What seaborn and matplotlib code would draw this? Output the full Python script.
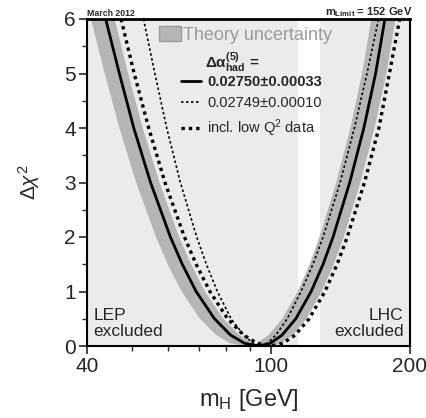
import matplotlib
matplotlib.use("Agg")
import matplotlib.pyplot as plt
import matplotlib.ticker as mticker
from matplotlib.patches import Patch
from matplotlib.lines import Line2D
import seaborn as sns

chi_levels = [6, 5, 4, 3, 2, 1.5, 1, 0.5, 0.2, 0.05, 0, 0.05, 0.2, 0.5, 1, 1.5, 2, 3, 4, 5, 6]

# m_H [GeV] of each curve at those levels
m_central = [43.9, 47.0, 50.5, 54.9, 60.6, 64.3, 68.9, 75.5, 81.8, 87.7, 94.0,
             99.7, 105.7, 113.2, 122.2, 129.7, 136.3, 148.1, 158.9, 168.5, 176.5]
m_fine = [53.0, 56.1, 59.5, 63.7, 69.1, 72.5, 76.6, 82.0, 87.3, 91.6, 95.0,
          98.3, 102.5, 108.5, 116.2, 123.3, 129.7, 141.2, 151.6, 161.4, 171.0]
m_lowq = [47.4, 50.6, 54.4, 59.0, 65.0, 68.9, 73.8, 80.6, 87.3, 93.4, 100.0,
          106.2, 112.8, 121.0, 130.9, 139.1, 146.3, 159.4, 171.3, 180.5, 190.0]

# theory band: outer edge (left branch down, right branch up) and inner edge
m_band_outer = [40.8, 43.7, 47.0, 51.1, 56.4, 59.8, 64.1, 70.2, 76.1, 81.6, 87.4,
                99.2, 105.2, 111.5, 119.4, 128.9, 136.8, 143.8, 156.2, 167.6, 177.8, 186.2]
chi_band_outer = [6, 5, 4, 3, 2, 1.5, 1, 0.5, 0.2, 0.05, 0,
                  0, 0.05, 0.2, 0.5, 1, 1.5, 2, 3, 4, 5, 6]
m_band_inner = [165.0, 157.5, 148.6, 138.5, 127.4, 121.3, 114.3, 105.8, 98.8, 93.2, 92.5,
                91.6, 85.5, 78.9, 72.0, 67.2, 63.3, 57.4, 52.8, 49.1, 45.9]
chi_band_inner = [6, 5, 4, 3, 2, 1.5, 1, 0.5, 0.2, 0.05, 0.04,
                  0.05, 0.2, 0.5, 1, 1.5, 2, 3, 4, 5, 6]

lep_limit = 114.4
lhc_low = 127.5
x_min, x_max = 40, 200

sns.set_style("ticks")
plt.rcParams['font.family'] = ['Liberation Sans', 'DejaVu Sans']
plt.rcParams['mathtext.fontset'] = 'custom'
plt.rcParams['mathtext.rm'] = 'Liberation Sans'
plt.rcParams['mathtext.it'] = 'Liberation Sans:italic'
plt.rcParams['mathtext.bf'] = 'Liberation Sans:bold'

fig = plt.figure(figsize=(4.26, 4.18), dpi=100)
ax = fig.add_axes([87/426, 1-346/418, 323/426, 327/418])

# excluded regions (stippled grey in the print)
ax.axvspan(x_min, lep_limit, color='#ebebeb', lw=0, zorder=0)
ax.axvspan(lhc_low, x_max, color='#ebebeb', lw=0, zorder=0)

# theory uncertainty band
ax.fill(m_band_outer + m_band_inner, chi_band_outer + chi_band_inner,
        color='#b5b5b5', lw=0, zorder=1)

sns.lineplot(x=m_central, y=chi_levels, sort=False, estimator=None, ax=ax,
             color='black', lw=2.0, zorder=3)
sns.lineplot(x=m_fine, y=chi_levels, sort=False, estimator=None, ax=ax,
             color='black', lw=1.2, linestyle=(0, (1.5, 1.5)), zorder=3)
sns.lineplot(x=m_lowq, y=chi_levels, sort=False, estimator=None, ax=ax,
             color='black', lw=2.4, linestyle=(0, (1, 1.2)), zorder=3)

ax.set_xscale('log')
ax.set_xlim(x_min, x_max)
ax.set_ylim(0, 6)
ax.xaxis.set_major_locator(mticker.FixedLocator([40, 100, 200]))
ax.xaxis.set_major_formatter(mticker.FixedFormatter(['40', '100', '200']))
ax.xaxis.set_minor_locator(mticker.FixedLocator([50, 60, 70, 80, 90]))
ax.xaxis.set_minor_formatter(mticker.NullFormatter())
ax.yaxis.set_major_locator(mticker.MultipleLocator(1))
ax.yaxis.set_minor_locator(mticker.MultipleLocator(0.5))
ax.tick_params(which='major', direction='out', length=6, width=1.2, labelsize=15, pad=2)
ax.tick_params(which='minor', direction='out', length=3.5, width=1.0)
for s in ax.spines.values():
    s.set_linewidth(1.5)
    s.set_color('black')
ax.spines['top'].set_linewidth(2.0)

ax.set_xlabel(r"m$_{\mathrm{H}}$ [GeV]", fontsize=17, labelpad=8)
ax.set_ylabel(r"$\Delta\chi^{2}$", fontsize=15, labelpad=16)

ax.text(0.02, 0.068, "LEP\nexcluded", transform=ax.transAxes, fontsize=12.5,
        ha='left', va='center', linespacing=1.05, zorder=5)
ax.text(0.98, 0.068, "LHC\nexcluded", transform=ax.transAxes, fontsize=12.5,
        ha='right', va='center', linespacing=1.05, multialignment='right', zorder=5)

fig.text(87/426, 1-13/418, "March 2012", fontsize=6.3, fontweight='bold', va='center')
fig.text(412/426, 1-12/418, r"m$_{\mathbf{Limit}}$ = 152 GeV", fontsize=8,
         fontweight='bold', ha='right', va='center')

theory = ax.legend(handles=[Patch(facecolor='#b5b5b5', edgecolor='#999999')],
                   labels=["Theory uncertainty"], loc='upper left',
                   bbox_to_anchor=(159/426, 1-26/418), bbox_transform=fig.transFigure,
                   frameon=False, fontsize=13, handlelength=1.2, handleheight=0.9,
                   handletextpad=0.15, borderpad=0, borderaxespad=0)
for t in theory.get_texts():
    t.set_color('#9a9a9a')
ax.add_artist(theory)

fig.text(205/426, 1-63/418, r"$\mathbf{\Delta\alpha^{(5)}_{had}}$ =", fontsize=11,
         fontweight='bold', va='center')

handles = [Line2D([], [], color='black', lw=2.0),
           Line2D([], [], color='black', lw=1.2, linestyle=(0, (1.5, 1.5))),
           Line2D([], [], color='black', lw=2.4, linestyle=(0, (1, 1.2)))]
labels = ["0.02750\u00b10.00033", "0.02749\u00b10.00010", r"incl. low Q$^{2}$ data"]
leg = ax.legend(handles=handles, labels=labels, loc='upper left',
                bbox_to_anchor=(181/426, 1-75/418), bbox_transform=fig.transFigure,
                frameon=False, fontsize=10.5, handlelength=1.4, handletextpad=0.4,
                labelspacing=0.5, borderpad=0, borderaxespad=0)
leg.get_texts()[0].set_fontweight('bold')

fig.savefig("out.png", dpi=100)
